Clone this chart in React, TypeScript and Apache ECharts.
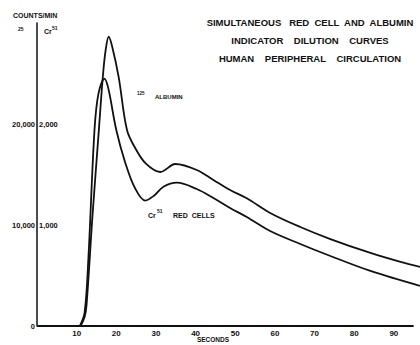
import React, { useEffect, useRef } from "react";
import * as echarts from "echarts";

// seconds, counts/min
const albuminT = [11.0, 12.0, 12.5, 14.0, 15.6, 16.6, 17.3, 18.1, 19.0, 20.6, 22.7, 24.8, 27.4, 31.1, 34.9, 40.3, 44.5, 48.7, 52.9, 58.8, 66.4, 74.0, 84.1, 91.7, 96.7];
const albuminV = [0, 890, 2080, 10940, 19400, 24650, 27300, 28640, 27600, 24650, 19400, 17600, 16100, 15250, 16040, 15450, 14450, 13460, 12640, 11190, 9800, 8610, 7230, 6340, 5840];

const redCellT = [10.8, 12.0, 13.0, 14.5, 15.5, 17.0, 18.0, 20.0, 22.2, 24.7, 27.3, 29.5, 31.9, 35.3, 40.3, 44.5, 48.7, 52.9, 58.8, 66.4, 74.0, 84.1, 96.7];
const redCellV = [0, 1290, 7000, 19400, 23000, 24480, 23500, 19400, 16240, 13660, 12420, 12900, 13790, 14190, 13560, 12670, 11680, 10790, 9400, 8120, 6930, 5450, 3960];

const xTicks = [10, 20, 30, 40, 50, 60, 70, 80, 90];
const xAxisEnd = 95;
const leftTickLabels: Record<number, string> = { 0: "0", 10000: "10,000", 20000: "20,000" };
const rightTickLabels: Record<number, string> = { 1000: "1,000", 2000: "2,000" };

const titleLines = [
  "SIMULTANEOUS   RED  CELL  AND  ALBUMIN",
  "INDICATOR    DILUTION    CURVES",
  "HUMAN    PERIPHERAL    CIRCULATION",
];

const FONT = "Liberation Sans";

export default function App() {
  const ref = useRef<HTMLDivElement>(null);
  useEffect(() => {
    if (!ref.current) return;
    const chart = echarts.init(ref.current, null, { renderer: "svg" });
    const lineStyle = { color: "#111", width: 1.8 };
    chart.setOption({
      animation: false,
      backgroundColor: "#fff",
      grid: { left: 37, top: 23, right: 0, bottom: 19, containLabel: false },
      xAxis: {
        type: "value",
        min: 0,
        max: 96.6,
        interval: 10,
        axisLine: { show: false },
        axisTick: { show: false },
        splitLine: { show: false },
        axisLabel: {
          color: "#111",
          fontFamily: FONT,
          fontWeight: "bold",
          fontSize: 8,
          margin: 3,
          showMaxLabel: false,
          formatter: (v: number) => (xTicks.includes(v) ? String(v) : ""),
        },
      },
      yAxis: [
        {
          type: "value",
          min: 0,
          max: 30000,
          interval: 10000,
          position: "left",
          axisLine: { show: true, lineStyle: { color: "#111", width: 1.5 } },
          axisTick: { show: false },
          splitLine: { show: false },
          axisLabel: {
            color: "#111",
            fontFamily: FONT,
            fontWeight: "bold",
            fontSize: 7.5,
            margin: 2,
            formatter: (v: number) => leftTickLabels[v] ?? "",
          },
        },
        {
          type: "value",
          min: 0,
          max: 3000,
          interval: 1000,
          position: "left",
          axisLine: { show: false },
          axisTick: { show: false },
          splitLine: { show: false },
          axisLabel: {
            inside: true,
            color: "#111",
            fontFamily: FONT,
            fontWeight: "bold",
            fontSize: 7.5,
            margin: 2,
            formatter: (v: number) => rightTickLabels[v] ?? "",
          },
        },
      ],
      series: [
        {
          name: "125 ALBUMIN",
          type: "line",
          data: albuminT.map((t, i) => [t, albuminV[i]]),
          smooth: 0.35,
          showSymbol: false,
          clip: false,
          lineStyle,
          markLine: {
            silent: true,
            symbol: "none",
            label: { show: false },
            lineStyle: { color: "#111", width: 2, type: "solid" },
            data: [[{ coord: [0, 0] }, { coord: [xAxisEnd, 0] }]],
          },
        },
        {
          name: "Cr51 RED CELLS",
          type: "line",
          data: redCellT.map((t, i) => [t, redCellV[i]]),
          smooth: 0.35,
          showSymbol: false,
          clip: false,
          lineStyle,
        },
      ],
      graphic: [
        ...titleLines.map((t, i) => ({
          type: "text",
          x: 310,
          y: 22 + i * 18,
          style: {
            text: t,
            font: `bold 9.5px "${FONT}"`,
            fill: "#111",
            textAlign: "center",
            textVerticalAlign: "middle",
          },
        })),
        { type: "text", x: 13, y: 15, style: { text: "COUNTS/MIN", font: `bold 7px "${FONT}"`, fill: "#111", textVerticalAlign: "middle" } },
        { type: "text", x: 18, y: 29, style: { text: "25", font: `bold 5px "${FONT}"`, fill: "#111", textVerticalAlign: "middle" } },
        { type: "text", x: 44, y: 31, style: { text: "Cr", font: `bold 7px "${FONT}"`, fill: "#111", textVerticalAlign: "middle" } },
        { type: "text", x: 52, y: 28, style: { text: "51", font: `bold 5px "${FONT}"`, fill: "#111", textVerticalAlign: "middle" } },
        { type: "text", x: 137, y: 93, style: { text: "125", font: `bold 4.5px "${FONT}"`, fill: "#111", textVerticalAlign: "middle" } },
        { type: "text", x: 155, y: 97, style: { text: "ALBUMIN", font: `bold 6px "${FONT}"`, fill: "#111", textVerticalAlign: "middle" } },
        { type: "text", x: 148, y: 215, style: { text: "Cr", font: `bold 7px "${FONT}"`, fill: "#111", textVerticalAlign: "middle" } },
        { type: "text", x: 157, y: 211, style: { text: "51", font: `bold 5px "${FONT}"`, fill: "#111", textVerticalAlign: "middle" } },
        { type: "text", x: 173, y: 215, style: { text: "RED  CELLS", font: `bold 7px "${FONT}"`, fill: "#111", textVerticalAlign: "middle" } },
        { type: "text", x: 213, y: 339, style: { text: "SECONDS", font: `bold 6.5px "${FONT}"`, fill: "#111", textAlign: "center", textVerticalAlign: "middle" } },
      ],
    });
    return () => chart.dispose();
  }, []);
  return <div ref={ref} style={{ width: 420, height: 345, position: "absolute", left: 0, top: 0 }} />;
}
